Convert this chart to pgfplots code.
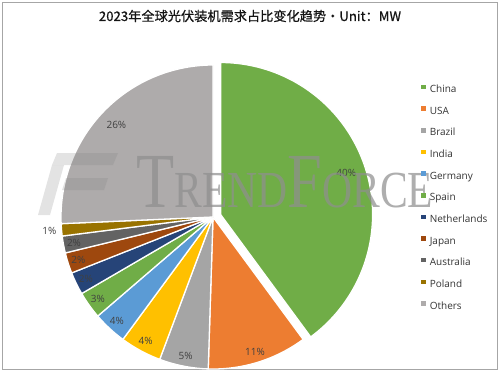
\documentclass[border=0pt]{standalone}
\usepackage{pgfplots}
\pgfplotsset{compat=1.18}
\usepackage{fontspec}
\setmainfont{Open Sans}
\newfontfamily\cjk[FakeBold=0.6]{Noto Sans CJK SC}
\newfontfamily\wm{Liberation Serif}
\definecolor{cChina}{HTML}{70AD47}
\definecolor{cUSA}{HTML}{ED7D31}
\definecolor{cBrazil}{HTML}{A5A5A5}
\definecolor{cIndia}{HTML}{FFC000}
\definecolor{cGermany}{HTML}{5B9BD5}
\definecolor{cSpain}{HTML}{70AD47}
\definecolor{cNeth}{HTML}{264478}
\definecolor{cJapan}{HTML}{9E480E}
\definecolor{cAus}{HTML}{636363}
\definecolor{cPoland}{HTML}{997300}
\definecolor{cOthers}{HTML}{AEABAB}
\definecolor{lblgray}{HTML}{404040}
\definecolor{leggray}{HTML}{333333}
\definecolor{wmgray}{HTML}{8F8F8F}
\definecolor{framegray}{HTML}{A6A6A6}
\def\cx{213}
\def\cy{156}
\def\pieR{152}
\def\pieA{90}
% #1 share (%), #2 colour, #3 label, #4 label radius factor, #5 explosion offset
\newcommand\slice[5]{%
  \pgfmathsetmacro\pieB{\pieA-3.6*#1}%
  \pgfmathsetmacro\pieM{(\pieA+\pieB)/2}%
  \pgfmathsetmacro\pieOX{\cx+#5*cos(\pieM)}%
  \pgfmathsetmacro\pieOY{\cy+#5*sin(\pieM)}%
  \pgfmathsetmacro\pieLX{\pieOX+#4*\pieR*cos(\pieM)}%
  \pgfmathsetmacro\pieLY{\pieOY+#4*\pieR*sin(\pieM)}%
  \edef\pieCmd{\noexpand\addplot[forget plot, fill=#2, draw=white, line width=1.3pt, line join=round, domain=\pieB:\pieA, samples=90] ({\pieOX+\pieR*cos(x)},{\pieOY+\pieR*sin(x)}) -- (axis cs:\pieOX,\pieOY) -- cycle;}%
  \pieCmd
  \edef\pieCmd{\noexpand\node[pielabel] at (axis cs:\pieLX,\pieLY) {#3};}%
  \pieCmd
  \global\let\pieA\pieB
}
\begin{document}
\begin{tikzpicture}[pielabel/.style={font=\fontsize{10}{12}\selectfont, text=lblgray, inner sep=0pt}]
\begin{axis}[
  x=1pt, y=1pt, xmin=0, xmax=500, ymin=0, ymax=373,
  hide axis, clip=false,
  legend image code/.code={\fill[#1, draw=none] (0pt,0.5pt) rectangle (4.6pt,5.1pt);},
  legend cell align=left,
  legend style={at={(0.842,0.7735)}, anchor=north west, draw=none, fill=none,
    inner sep=0pt, font=\fontsize{10}{12}\selectfont, text=leggray,
    row sep=11.8pt,
    nodes={inner sep=0pt, text height=7.5pt, text depth=2pt},
    /tikz/every odd column/.append style={column sep=4pt}},
]
\path (axis cs:0,0) rectangle (axis cs:500,373);
\draw[framegray, line width=0.9pt] (axis cs:2.7,371) rectangle (axis cs:497,4);
\slice{39.9}{cChina}{40\%}{0.87}{8}
\slice{10.6}{cUSA}{11\%}{0.93}{0}
\slice{5.2}{cBrazil}{5\%}{0.93}{0}
\slice{4.4}{cIndia}{4\%}{0.93}{0}
\slice{3.6}{cGermany}{4\%}{0.93}{0}
\slice{2.9}{cSpain}{3\%}{0.93}{0}
\slice{2.4}{cNeth}{2\%}{0.93}{0}
\slice{2.2}{cJapan}{2\%}{0.93}{0}
\slice{1.8}{cAus}{2\%}{0.93}{0}
\slice{1.3}{cPoland}{1\%}{1.08}{0}
\slice{25.7}{cOthers}{26\%}{0.88}{0}
% watermark logo and text
\fill[gray, opacity=0.22] (axis cs:57,220) -- (axis cs:118,220) -- (axis cs:113,208) -- (axis cs:52,208) -- cycle;
\fill[gray, opacity=0.22] (axis cs:66,195) -- (axis cs:108,195) -- (axis cs:104,183) -- (axis cs:62,183) -- cycle;
\fill[gray, opacity=0.22] (axis cs:52,208) -- (axis cs:64,208) -- (axis cs:50,158) -- (axis cs:38,158) -- cycle;
\node[anchor=base west, text=wmgray, opacity=0.72, xscale=0.8, inner sep=0pt] at (axis cs:136,166)
  {\wm\fontsize{78}{78}\selectfont T\fontsize{52}{52}\selectfont REND\fontsize{78}{78}\selectfont F\fontsize{52}{52}\selectfont ORCE};
\node[anchor=base, text=black!92] at (axis cs:250,352)
  {\cjk\fontsize{13.2}{16}\selectfont 2023年全球光伏装机需求占比变化趋势・Unit：MW};
\addlegendimage{fill=cChina}\addlegendentry{China}
\addlegendimage{fill=cUSA}\addlegendentry{USA}
\addlegendimage{fill=cBrazil}\addlegendentry{Brazil}
\addlegendimage{fill=cIndia}\addlegendentry{India}
\addlegendimage{fill=cGermany}\addlegendentry{Germany}
\addlegendimage{fill=cSpain}\addlegendentry{Spain}
\addlegendimage{fill=cNeth}\addlegendentry{Netherlands}
\addlegendimage{fill=cJapan}\addlegendentry{Japan}
\addlegendimage{fill=cAus}\addlegendentry{Australia}
\addlegendimage{fill=cPoland}\addlegendentry{Poland}
\addlegendimage{fill=cOthers}\addlegendentry{Others}
\end{axis}
\end{tikzpicture}
\end{document}
